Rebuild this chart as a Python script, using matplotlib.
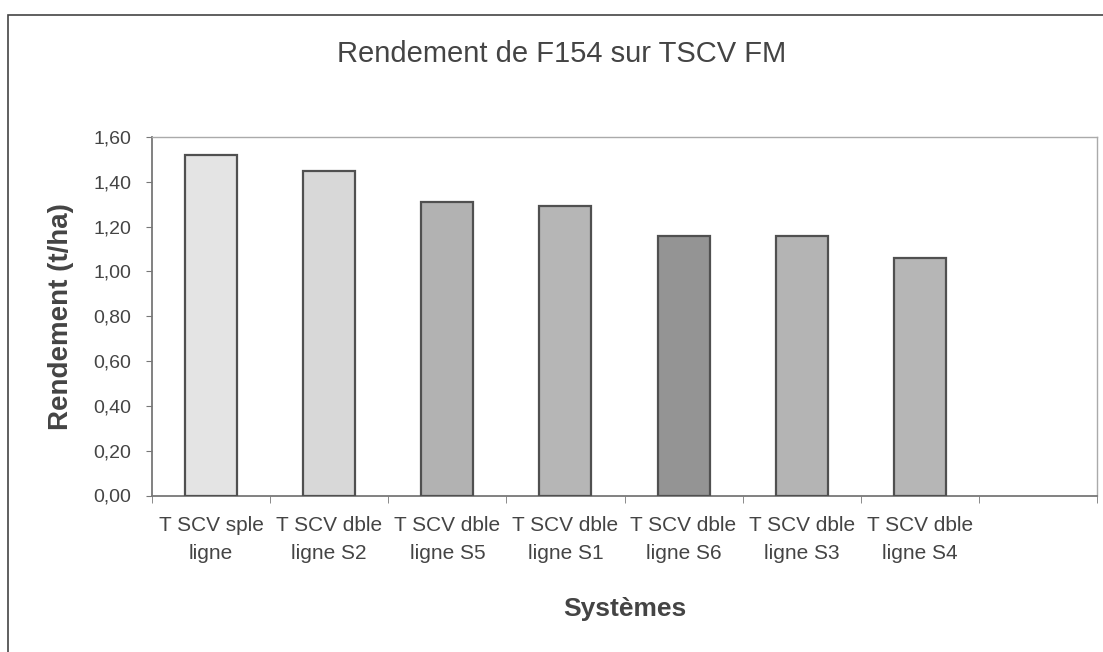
import numpy as np
import matplotlib.pyplot as plt
from matplotlib.patches import Rectangle

# data
categories = ["T SCV sple\nligne", "T SCV dble\nligne S2", "T SCV dble\nligne S5",
              "T SCV dble\nligne S1", "T SCV dble\nligne S6", "T SCV dble\nligne S3",
              "T SCV dble\nligne S4"]
rendement = [1.52, 1.45, 1.31, 1.29, 1.16, 1.16, 1.06]
bar_colors = ["#e4e4e4", "#d8d8d8", "#b2b2b2", "#b6b6b6", "#949494", "#b4b4b4", "#b6b6b6"]
yticks = [0.0, 0.2, 0.4, 0.6, 0.8, 1.0, 1.2, 1.4, 1.6]
n_slots = 8  # excel left an empty slot at the right

plt.rcParams['font.family'] = ['Liberation Sans', 'DejaVu Sans']

fig = plt.figure(figsize=(11.03, 6.52), dpi=100)
fig.patch.set_facecolor('white')

# outer chart frame (only top and left visible in the scan)
fig.patches.append(Rectangle((8/1103, -0.1), 1.2, 1.1 - 15/652, transform=fig.transFigure,
                             fill=False, edgecolor='#444444', linewidth=1.2))

ax = fig.add_axes([152/1103, 1 - 495.5/652, (1097-152)/1103, (495.5-137)/652])
x = np.arange(len(rendement))
ax.bar(x, rendement, width=0.44, color=bar_colors, edgecolor='#505050', linewidth=1.6, zorder=3)

ax.set_xlim(-0.5, n_slots - 0.5)
ax.set_ylim(0, 1.6)
ax.set_yticks(yticks)
ax.set_yticklabels([f"{v:.2f}".replace('.', ',') for v in yticks], fontsize=14, color='#444444')
ax.set_xticks(x)
ax.set_xticklabels(categories, fontsize=15, color='#444444', linespacing=1.6)
ax.tick_params(axis='x', length=0, pad=15)
ax.set_xticks(np.arange(n_slots + 1) - 0.5, minor=True)
ax.tick_params(axis='x', which='minor', length=5, color='#777777', direction='out')
ax.tick_params(axis='y', length=4, color='#777777', direction='out', pad=11)

for side in ['left', 'bottom']:
    ax.spines[side].set_color('#777777')
    ax.spines[side].set_linewidth(1.3)
for side in ['top', 'right']:
    ax.spines[side].set_color('#aaaaaa')
    ax.spines[side].set_linewidth(1.0)

ax.set_ylabel("Rendement (t/ha)", fontsize=20, fontweight='bold', color='#444444', labelpad=14)
ax.set_xlabel("Systèmes", fontsize=19, fontweight='bold', color='#444444', labelpad=24)

fig.text(562/1103, 1 - 54/652, "Rendement de F154 sur TSCV FM", fontsize=21,
         color='#444444', ha='center', va='center')

fig.savefig('out.png', dpi=100)
